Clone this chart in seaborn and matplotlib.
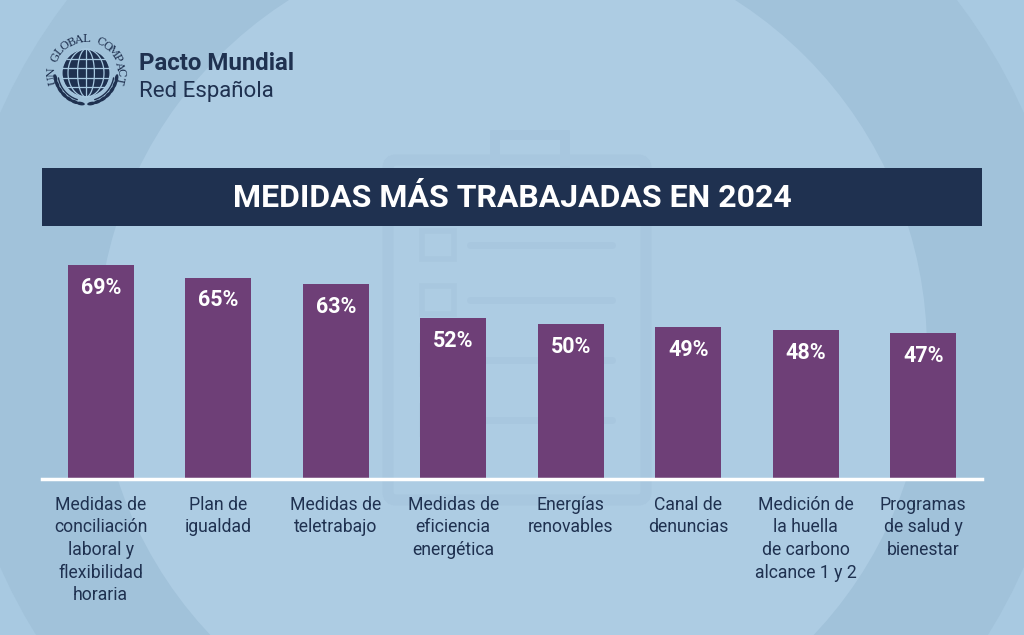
import numpy as np
import pandas as pd
import matplotlib
matplotlib.use("Agg")
import matplotlib.pyplot as plt
import matplotlib.patches as mpatches
import seaborn as sns

# ---------------- data ----------------
categories = [
    "Medidas de\nconciliación\nlaboral y\nflexibilidad\nhoraria",
    "Plan de\nigualdad",
    "Medidas de\nteletrabajo",
    "Medidas de\neficiencia\nenergética",
    "Energías\nrenovables",
    "Canal de\ndenuncias",
    "Medición de\nla huella\nde carbono\nalcance 1 y 2",
    "Programas\nde salud y\nbienestar",
]
values = [69, 65, 63, 52, 50, 49, 48, 47]
value_labels = ["69%", "65%", "63%", "52%", "50%", "49%", "48%", "47%"]
title = "MEDIDAS MÁS TRABAJADAS EN 2024"
brand_main = "Pacto Mundial"
brand_sub = "Red Española"
logo_arc_text = "UN GLOBAL COMPACT"

# ---------------- style ----------------
sns.set_theme(style="white")
plt.rcParams["font.family"] = ["Roboto", "DejaVu Sans"]

NAVY = "#1f3150"
PURPLE = "#6e3f77"
BG = "#a8c9e1"
FAINT = "#a8c7df"

W, H = 1024, 635
fig = plt.figure(figsize=(W / 100, H / 100), dpi=100)
fig.patch.set_facecolor(BG)

# background / decoration axes in pixel coordinates
bg = fig.add_axes([0, 0, 1, 1], zorder=0)
bg.set_xlim(0, W)
bg.set_ylim(H, 0)
bg.axis("off")

# concentric decorative circles
bg.add_patch(mpatches.Ellipse((512, 340), 2 * 560, 2 * 560, color="#a1c2da", lw=0))
bg.add_patch(mpatches.Ellipse((512, 350), 2 * 415, 2 * 415, color="#adcce3", lw=0))

# faint clipboard
bg.add_patch(mpatches.FancyBboxPatch((388, 160), 258, 340, boxstyle="round,pad=0,rounding_size=8",
                                     fc="none", ec=FAINT, lw=8))
bg.add_patch(mpatches.Rectangle((495, 135), 70, 40, fc="none", ec=FAINT, lw=7))
for yy in (245, 300, 360, 420):
    bg.add_patch(mpatches.Rectangle((422, yy - 14), 32, 28, fc="none", ec=FAINT, lw=4))
    bg.plot([470, 612], [yy, yy], color=FAINT, lw=5, solid_capstyle="round")

# logo: globe
gx, gy, gr = 86, 73, 24
LINE = "#a8c9e1"
bg.add_patch(mpatches.Circle((gx, gy), gr, color=NAVY, lw=0))
for k in (-0.6, -0.2, 0.2, 0.6):
    yy = gy + k * gr
    half = np.sqrt(max(gr ** 2 - (k * gr) ** 2, 0))
    bg.plot([gx - half, gx + half], [yy, yy], color=LINE, lw=0.9)
t = np.linspace(-np.pi / 2, np.pi / 2, 50)
for s in (0.35, 0.75):
    for sign in (-1, 1):
        bg.plot(gx + sign * s * gr * np.cos(t), gy + gr * np.sin(t), color=LINE, lw=0.9)
bg.plot([gx, gx], [gy - gr, gy + gr], color=LINE, lw=0.9)
bg.add_patch(mpatches.Circle((gx, gy), gr, fc="none", ec=LINE, lw=0.8))

# laurel branches (image-angle convention: 90 = below, 180 = left)
for a0, a1 in ((100, 170), (80, 10)):
    for a in np.linspace(a0, a1, 7):
        ar = np.deg2rad(a)
        lx = gx + 31 * np.cos(ar)
        ly = gy + 31 * np.sin(ar)
        bg.add_patch(mpatches.Ellipse((lx, ly), 3.5, 8.5, angle=a, color=NAVY, lw=0))
    aa = np.deg2rad(np.linspace(a0 - 8 if a0 > a1 else a0 + 8, a1, 30))
    bg.plot(gx + 28 * np.cos(aa), gy + 28 * np.sin(aa), color=NAVY, lw=1)

# arc text
n = len(logo_arc_text)
angles = np.linspace(168, 372, n)
for ch, a in zip(logo_arc_text, angles):
    r = 34
    x = gx + r * np.cos(np.deg2rad(a))
    y = gy + r * np.sin(np.deg2rad(a))
    bg.text(x, y, ch, rotation=-a - 90, ha="center", va="center", fontsize=8,
            family="DejaVu Serif", color=NAVY, rotation_mode="anchor")

bg.text(139, 64, brand_main, fontsize=17.3, fontweight="bold", color=NAVY, va="center", ha="left")
bg.text(139, 91, brand_sub, fontsize=16, color=NAVY, va="center", ha="left")

# title banner
bg.add_patch(mpatches.Rectangle((42, 168), 940, 58, color=NAVY, lw=0))
bg.text(512, 198, title, fontsize=23, fontweight="bold", color="white",
        ha="center", va="center")

# ---------------- bar chart ----------------
df = pd.DataFrame({"cat": categories, "val": values})
px_per_unit = 3.1
ax_bottom_px = 479
ax_top_px = 245
ax = fig.add_axes([42 / W, (H - ax_bottom_px) / H, 940 / W, (ax_bottom_px - ax_top_px) / H], zorder=1)
ax.patch.set_alpha(0)
sns.barplot(data=df, x="cat", y="val", color=PURPLE, width=0.56, saturation=1,
            linewidth=0, edgecolor="none", ax=ax)
ax.set_xlim(-0.5, len(categories) - 0.5)
ax.set_ylim(0, (ax_bottom_px - ax_top_px) / px_per_unit)
for i, (v, lab) in enumerate(zip(values, value_labels)):
    ax.text(i, v - 7.4, lab, ha="center", va="center", color="white",
            fontsize=15.5, fontweight="bold")
ax.set_xlabel("")
ax.set_ylabel("")
ax.set_yticks([])
ax.set_xticks(range(len(categories)))
ax.set_xticklabels(categories, fontsize=12.7, color=NAVY, linespacing=1.33, va="top")
ax.tick_params(axis="x", length=0, pad=12)
for s in ("left", "right", "top"):
    ax.spines[s].set_visible(False)
ax.spines["bottom"].set_color("white")
ax.spines["bottom"].set_linewidth(2.5)

fig.savefig("out.png", dpi=100, facecolor=fig.get_facecolor())
